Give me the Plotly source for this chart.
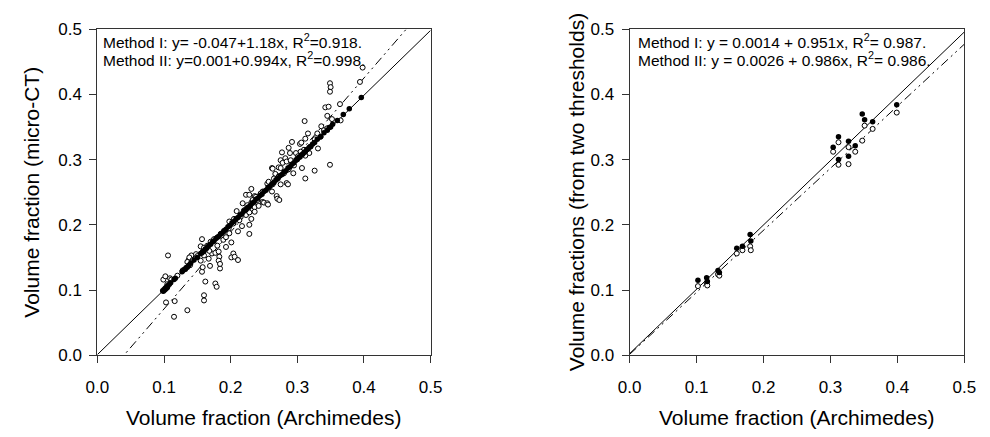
import plotly.graph_objects as go

# ---------------- Left panel data (micro-CT vs Archimedes) ----------------
left_open_x = [
    0.099, 0.102, 0.105, 0.109, 0.111, 0.106, 0.103, 0.116, 0.115, 0.135, 0.137, 0.141, 0.138, 0.135, 0.139, 0.128, 0.120, 0.143,
    0.148, 0.155, 0.157, 0.155, 0.157, 0.158, 0.160, 0.160, 0.160, 0.162, 0.167, 0.169, 0.172, 0.177, 0.177, 0.179, 0.182, 0.183,
    0.182, 0.184, 0.184, 0.189, 0.193, 0.193, 0.150, 0.165, 0.170, 0.175, 0.185, 0.180, 0.190, 0.160, 0.168,
    0.197, 0.198, 0.198, 0.201, 0.204, 0.204, 0.201, 0.206, 0.209, 0.211, 0.211, 0.217, 0.223, 0.223, 0.223, 0.228, 0.228, 0.228,
    0.228, 0.228, 0.231, 0.231, 0.231, 0.233, 0.236, 0.236, 0.236, 0.215, 0.220, 0.213, 0.240, 0.245, 0.248, 0.248, 0.250, 0.255,
    0.255, 0.257, 0.256, 0.257, 0.218, 0.205, 0.242, 0.225, 0.238,
    0.262, 0.262, 0.263, 0.263, 0.267, 0.269, 0.270, 0.272, 0.272, 0.273, 0.275, 0.275, 0.275, 0.277, 0.278, 0.282, 0.284, 0.284,
    0.286, 0.287, 0.287, 0.289, 0.292, 0.294, 0.295, 0.290, 0.280, 0.268, 0.265, 0.298,
    0.301, 0.304, 0.306, 0.307, 0.311, 0.312, 0.312, 0.312, 0.316, 0.326, 0.326, 0.331, 0.336, 0.342, 0.345, 0.347, 0.349, 0.350,
    0.349, 0.349, 0.364, 0.365, 0.394, 0.398, 0.320, 0.318, 0.330, 0.340, 0.335, 0.345, 0.352, 0.310, 0.305,
]
left_open_y = [
    0.116, 0.121, 0.109, 0.118, 0.116, 0.153, 0.081, 0.083, 0.059, 0.069, 0.146, 0.153, 0.150, 0.143, 0.138, 0.130, 0.122, 0.146,
    0.155, 0.167, 0.178, 0.145, 0.128, 0.135, 0.153, 0.092, 0.084, 0.113, 0.148, 0.137, 0.156, 0.157, 0.110, 0.105, 0.159, 0.151,
    0.145, 0.133, 0.140, 0.177, 0.166, 0.181, 0.152, 0.168, 0.174, 0.178, 0.186, 0.168, 0.190, 0.165, 0.160,
    0.194, 0.187, 0.205, 0.173, 0.202, 0.156, 0.150, 0.151, 0.221, 0.190, 0.146, 0.198, 0.246, 0.224, 0.215, 0.246, 0.228, 0.219,
    0.200, 0.186, 0.255, 0.234, 0.209, 0.238, 0.244, 0.227, 0.220, 0.212, 0.222, 0.207, 0.238, 0.248, 0.251, 0.235, 0.234, 0.263,
    0.233, 0.257, 0.231, 0.266, 0.233, 0.209, 0.229, 0.230, 0.243,
    0.251, 0.287, 0.286, 0.262, 0.278, 0.244, 0.240, 0.288, 0.274, 0.238, 0.287, 0.262, 0.299, 0.311, 0.295, 0.302, 0.297, 0.264,
    0.262, 0.318, 0.285, 0.310, 0.327, 0.279, 0.291, 0.299, 0.279, 0.269, 0.271, 0.310,
    0.305, 0.324, 0.326, 0.287, 0.359, 0.332, 0.306, 0.271, 0.340, 0.331, 0.283, 0.317, 0.351, 0.380, 0.367, 0.381, 0.417, 0.411,
    0.404, 0.292, 0.385, 0.360, 0.419, 0.441, 0.320, 0.310, 0.340, 0.345, 0.335, 0.348, 0.362, 0.315, 0.312,
]
left_filled_x = [
    0.098, 0.099, 0.100, 0.101, 0.102, 0.103, 0.104, 0.105, 0.106, 0.108, 0.110, 0.115, 0.117, 0.127, 0.130, 0.132, 0.133, 0.135,
    0.137, 0.140, 0.145, 0.150, 0.155, 0.157, 0.158, 0.160, 0.162, 0.164, 0.167, 0.170, 0.173, 0.175, 0.178, 0.180, 0.182, 0.185,
    0.187, 0.190, 0.193, 0.196, 0.199, 0.202, 0.205, 0.208, 0.211, 0.214, 0.217, 0.220, 0.223, 0.226, 0.229, 0.232, 0.235, 0.238,
    0.241, 0.244, 0.247, 0.250, 0.253, 0.256, 0.259, 0.262, 0.265, 0.268, 0.271, 0.274, 0.277, 0.280, 0.283, 0.286, 0.289, 0.292,
    0.295, 0.298, 0.300, 0.302, 0.304, 0.306, 0.308, 0.310, 0.312, 0.314, 0.316, 0.318, 0.320, 0.323, 0.326, 0.330, 0.335, 0.340,
    0.345, 0.348, 0.350, 0.353, 0.360, 0.369, 0.378, 0.396,
]
left_filled_y = [
    0.099, 0.098, 0.101, 0.100, 0.103, 0.102, 0.105, 0.104, 0.107, 0.109, 0.111, 0.116, 0.118, 0.128, 0.131, 0.132, 0.134, 0.135,
    0.138, 0.141, 0.146, 0.150, 0.156, 0.157, 0.159, 0.160, 0.163, 0.164, 0.168, 0.170, 0.174, 0.175, 0.179, 0.181, 0.182, 0.186,
    0.187, 0.191, 0.193, 0.197, 0.199, 0.203, 0.205, 0.209, 0.211, 0.215, 0.217, 0.221, 0.223, 0.227, 0.229, 0.233, 0.235, 0.239,
    0.241, 0.245, 0.247, 0.251, 0.253, 0.257, 0.259, 0.263, 0.265, 0.269, 0.271, 0.275, 0.277, 0.281, 0.283, 0.287, 0.289, 0.293,
    0.295, 0.299, 0.300, 0.303, 0.304, 0.307, 0.308, 0.311, 0.312, 0.315, 0.316, 0.319, 0.320, 0.324, 0.326, 0.331, 0.335, 0.341,
    0.345, 0.349, 0.350, 0.354, 0.360, 0.369, 0.378, 0.395,
]
left_fit_I = (-0.047, 1.18)     # Method I: intercept, slope
left_fit_II = (0.001, 0.994)    # Method II
left_text = ["Method I: y= -0.047+1.18x, R<sup>2</sup>=0.918.",
             "Method II: y=0.001+0.994x, R<sup>2</sup>=0.998."]
left_xtitle = "Volume fraction (Archimedes)"
left_ytitle = "Volume fraction (micro-CT)"

# ---------------- Right panel data (two thresholds vs Archimedes) ----------------
right_x = [0.102, 0.115, 0.116, 0.132, 0.134, 0.160, 0.1685, 0.180, 0.181,
           0.304, 0.312, 0.312, 0.327, 0.327, 0.337, 0.3475, 0.351, 0.363, 0.399]
right_filled_y = [0.115, 0.119, 0.113, 0.130, 0.127, 0.164, 0.167, 0.185, 0.175,
                  0.319, 0.335, 0.300, 0.328, 0.305, 0.321, 0.370, 0.361, 0.358, 0.384]
right_open_y = [0.106, 0.111, 0.107, 0.124, 0.122, 0.156, 0.161, 0.167, 0.161,
                0.312, 0.3265, 0.292, 0.319, 0.293, 0.312, 0.329, 0.352, 0.347, 0.372]
right_fit_I = (0.0014, 0.951)
right_fit_II = (0.0026, 0.986)
right_text = ["Method I: y = 0.0014 + 0.951x, R<sup>2</sup>= 0.987.",
              "Method II: y = 0.0026 + 0.986x, R<sup>2</sup>= 0.986."]
right_xtitle = "Volume fraction (Archimedes)"
right_ytitle = "Volume fractions (from two thresholds)"

ticks = [0.0, 0.1, 0.2, 0.3, 0.4, 0.5]
FONT = "Liberation Sans, Arial, sans-serif"
dashdot = "9px,4px,2px,4px,2px,4px"

W, H = 990, 437
TOP, BOT = 21, 362
LEFT_DOM = (87.5, 429)
RIGHT_DOM = (633, 976)

fig = go.Figure()


def add_panel(xa, ya, ox, oy, fx, fy, fitI, fitII):
    line_x = [0.0, 0.5]
    fig.add_trace(go.Scatter(x=line_x, y=[fitII[0] + fitII[1] * v for v in line_x], mode="lines",
                             line=dict(color="black", width=1), xaxis=xa, yaxis=ya, showlegend=False))
    fig.add_trace(go.Scatter(x=line_x, y=[fitI[0] + fitI[1] * v for v in line_x], mode="lines",
                             line=dict(color="black", width=1, dash=dashdot), xaxis=xa, yaxis=ya, showlegend=False))
    fig.add_trace(go.Scatter(x=ox, y=oy, mode="markers", xaxis=xa, yaxis=ya, showlegend=False,
                             marker=dict(symbol="circle", size=5, color="white", line=dict(color="black", width=1))))
    fig.add_trace(go.Scatter(x=fx, y=fy, mode="markers", xaxis=xa, yaxis=ya, showlegend=False,
                             marker=dict(symbol="circle", size=5.5, color="black", line=dict(color="black", width=0))))


add_panel("x", "y", left_open_x, left_open_y, left_filled_x, left_filled_y, left_fit_I, left_fit_II)
add_panel("x2", "y2", right_x, right_open_y, right_x, right_filled_y, right_fit_I, right_fit_II)

axis_common = dict(range=[0, 0.5], tickvals=ticks, tickformat=".1f", showgrid=False, zeroline=False,
                   showline=True, linecolor="#333", linewidth=1, mirror=True, ticks="outside",
                   ticklen=7, tickcolor="#333", tickfont=dict(family=FONT, size=17, color="black"),
                   fixedrange=True)

ydom = [1 - BOT / H, 1 - TOP / H]
fig.update_layout(
    width=W, height=H, margin=dict(l=0, r=0, t=0, b=0),
    paper_bgcolor="white", plot_bgcolor="white",
    xaxis=dict(axis_common, domain=[LEFT_DOM[0] / W, LEFT_DOM[1] / W], ticklabelstandoff=9),
    yaxis=dict(axis_common, domain=ydom, ticklabelstandoff=4),
    xaxis2=dict(axis_common, domain=[RIGHT_DOM[0] / W, RIGHT_DOM[1] / W], anchor="y2", ticklabelstandoff=9),
    yaxis2=dict(axis_common, domain=ydom, anchor="x2", ticklabelstandoff=4),
)

title_font = dict(family=FONT, size=21, color="black")
ymid = 1 - (TOP + BOT) / 2 / H
for dom, xt, yt, ytx in [(LEFT_DOM, left_xtitle, left_ytitle, 20), (RIGHT_DOM, right_xtitle, right_ytitle, 578)]:
    fig.add_annotation(x=(dom[0] + dom[1]) / 2 / W, y=1 - 427 / H, xref="paper", yref="paper", text=xt,
                       showarrow=False, xanchor="center", yanchor="middle", font=title_font)
    fig.add_annotation(x=ytx / W, y=ymid, xref="paper", yref="paper", text=yt, textangle=-90,
                       showarrow=False, xanchor="center", yanchor="middle", font=title_font)

for xr, yr, texts, x0 in [("x", "y", left_text, 0.006), ("x2", "y2", right_text, 0.010)]:
    for t, yv in zip(texts, [0.4824, 0.4545]):
        fig.add_annotation(x=x0, y=yv, xref=xr, yref=yr, text=t, showarrow=False, xanchor="left",
                           yanchor="middle", font=dict(family=FONT, size=15.5, color="black"))

fig.write_html("out.html")
